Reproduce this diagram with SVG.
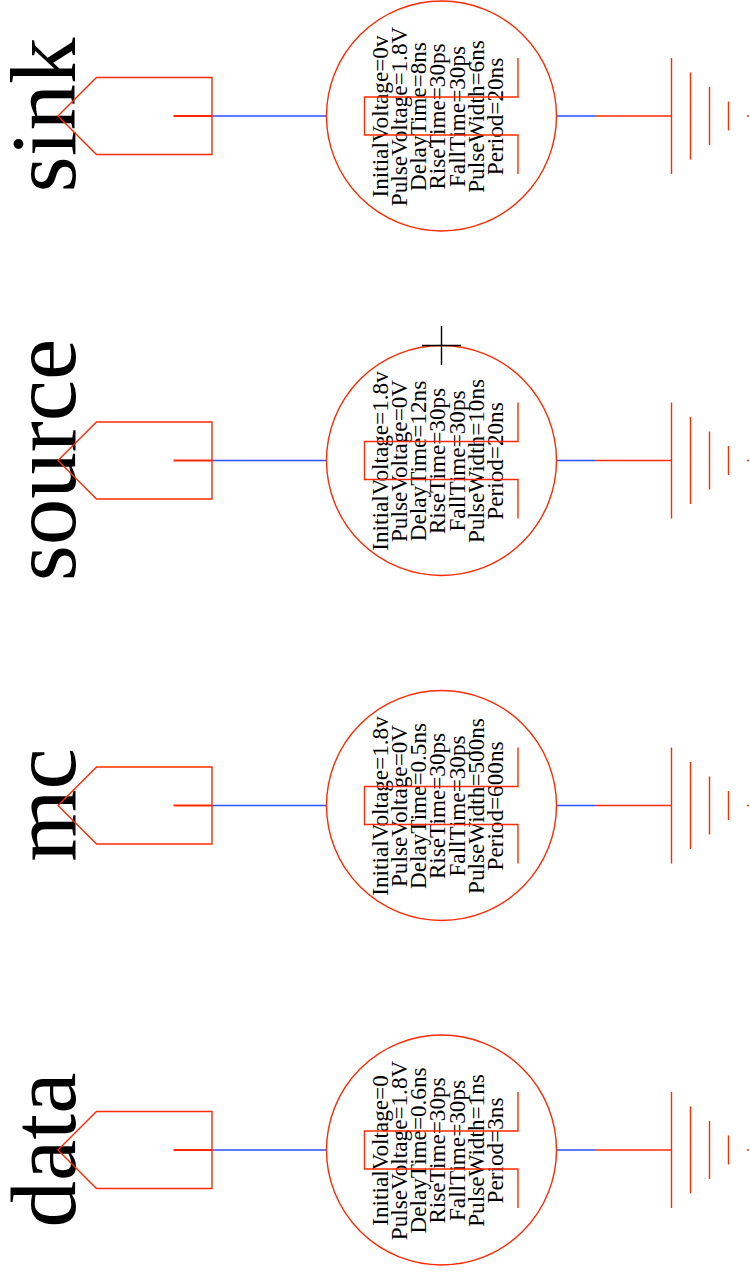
<svg xmlns="http://www.w3.org/2000/svg" width="750" height="1274" viewBox="0 0 750 1274">
<style>
.r{fill:none;stroke:#ff2a00;stroke-width:1.4}
.h{fill:none;stroke:#ff2a00;stroke-width:2}
.b{fill:none;stroke:#2a50ff;stroke-width:1.4}
.k{fill:none;stroke:#000;stroke-width:1.4}
.t{font-family:"Liberation Serif","Times New Roman",serif;font-size:23.2px;text-anchor:middle;fill:#000}
.l{font-family:"Liberation Serif","Times New Roman",serif;font-size:93px;text-anchor:middle;fill:#000}
</style>
<defs>
<g id="sym">
<path class="r" d="M58 0L96.500 -38.500H212V38.500H96.500Z"/>
<path class="h" d="M173.500 0H212"/>
<circle class="r" cx="441.500" cy="0" r="115"/>
<path class="r" d="M518 -58V-19H364.500V19H518V58"/>
<path class="r" d="M595 0H671.500M671.500 -58V58M690.500 -43.500V43.500M709.500 -29V29M728.500 -14.500V14.500M747 0H749"/>
</g>
</defs>
<g id="connectors">
<path class="b" d="M212 116H326.500M556.500 116H595"/>
<path class="b" d="M212 460.500H326.500M556.500 460.500H595"/>
<path class="b" d="M212 805.500H326.500M556.500 805.500H595"/>
<path class="b" d="M212 1150H326.500M556.500 1150H595"/>
</g>
<g id="sink">
<text class="l" transform="translate(74.500 115) rotate(-90)">sink</text>
<g transform="translate(0 116.500)">
<text class="t" transform="translate(387.500 0) rotate(-90)">InitialVoltage=0v</text>
<text class="t" transform="translate(406.800 0) rotate(-90)">PulseVoltage=1.8V</text>
<text class="t" transform="translate(426 0) rotate(-90)">DelayTime=8ns</text>
<text class="t" transform="translate(445.300 0) rotate(-90)">RiseTime=30ps</text>
<text class="t" transform="translate(464.600 0) rotate(-90)">FallTime=30ps</text>
<text class="t" transform="translate(483.800 0) rotate(-90)">PulseWidth=6ns</text>
<text class="t" transform="translate(503 0) rotate(-90)">Period=20ns</text>
</g>
<use href="#sym" y="116"/>
</g>
<g id="source">
<text class="l" transform="translate(74.500 460) rotate(-90)">source</text>
<g transform="translate(0 461)">
<text class="t" transform="translate(387.500 0) rotate(-90)">InitialVoltage=1.8v</text>
<text class="t" transform="translate(406.800 0) rotate(-90)">PulseVoltage=0V</text>
<text class="t" transform="translate(426 0) rotate(-90)">DelayTime=12ns</text>
<text class="t" transform="translate(445.300 0) rotate(-90)">RiseTime=30ps</text>
<text class="t" transform="translate(464.600 0) rotate(-90)">FallTime=30ps</text>
<text class="t" transform="translate(483.800 0) rotate(-90)">PulseWidth=10ns</text>
<text class="t" transform="translate(503 0) rotate(-90)">Period=20ns</text>
</g>
<use href="#sym" y="460.500"/>
<path class="k" d="M441.500 326V365M422 345.500H461"/>
</g>
<g id="mc">
<text class="l" transform="translate(74.500 805) rotate(-90)">mc</text>
<g transform="translate(0 806)">
<text class="t" transform="translate(387.500 0) rotate(-90)">InitialVoltage=1.8v</text>
<text class="t" transform="translate(406.800 0) rotate(-90)">PulseVoltage=0V</text>
<text class="t" transform="translate(426 0) rotate(-90)">DelayTime=0.5ns</text>
<text class="t" transform="translate(445.300 0) rotate(-90)">RiseTime=30ps</text>
<text class="t" transform="translate(464.600 0) rotate(-90)">FallTime=30ps</text>
<text class="t" transform="translate(483.800 0) rotate(-90)">PulseWidth=500ns</text>
<text class="t" transform="translate(503 0) rotate(-90)">Period=600ns</text>
</g>
<use href="#sym" y="805.500"/>
</g>
<g id="data">
<text class="l" transform="translate(74.500 1150) rotate(-90)">data</text>
<g transform="translate(0 1150.500)">
<text class="t" transform="translate(387.500 0) rotate(-90)">InitialVoltage=0</text>
<text class="t" transform="translate(406.800 0) rotate(-90)">PulseVoltage=1.8V</text>
<text class="t" transform="translate(426 0) rotate(-90)">DelayTime=0.6ns</text>
<text class="t" transform="translate(445.300 0) rotate(-90)">RiseTime=30ps</text>
<text class="t" transform="translate(464.600 0) rotate(-90)">FallTime=30ps</text>
<text class="t" transform="translate(483.800 0) rotate(-90)">PulseWidth=1ns</text>
<text class="t" transform="translate(503 0) rotate(-90)">Period=3ns</text>
</g>
<use href="#sym" y="1150"/>
</g>
</svg>
